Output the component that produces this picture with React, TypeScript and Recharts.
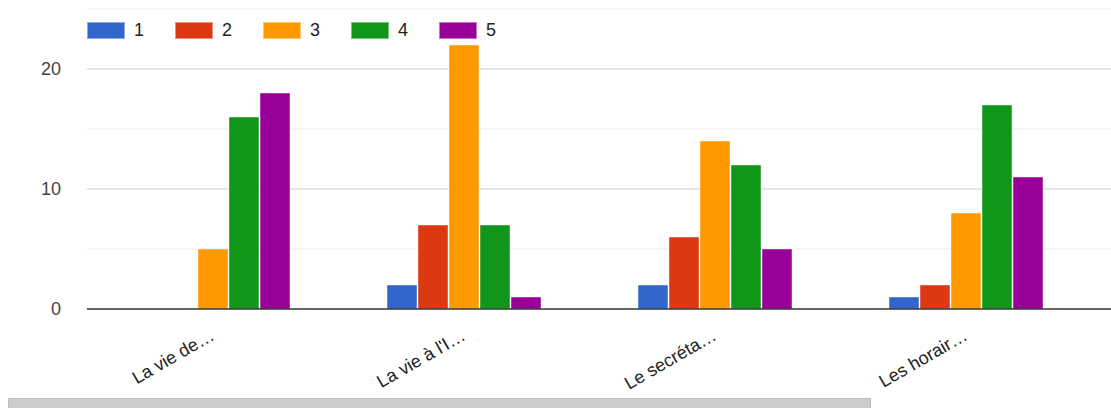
import React from 'react';
import { BarChart, Bar, XAxis, YAxis, CartesianGrid } from 'recharts';

const categories = ['La vie de…', "La vie à l'I…", 'Le secréta…', 'Les horair…'];
const series1 = [0, 2, 2, 1];
const series2 = [0, 7, 6, 2];
const series3 = [5, 22, 14, 8];
const series4 = [16, 7, 12, 17];
const series5 = [18, 1, 5, 11];
const seriesNames = ['1', '2', '3', '4', '5'];
const colors = ['#3366cc', '#dc3912', '#ff9900', '#109618', '#990099'];
const yTicks = [0, 10, 20];

const data = categories.map((name, i) => ({
    name,
    s1: series1[i],
    s2: series2[i],
    s3: series3[i],
    s4: series4[i],
    s5: series5[i],
}));

const FONT = '"Liberation Sans", Arial, sans-serif';

function XTick(props: any) {
    const { x, y, payload } = props;
    return (
        <g transform={`translate(${x + 3},${y + 22})`}>
            <text
                textAnchor="end"
                transform="rotate(-30)"
                fill="#222"
                fontSize={18}
                fontFamily={FONT}
            >
                {payload.value}
            </text>
        </g>
    );
}

// legend drawn as plain html so it doesn't push the plot down
function LegendBox() {
    return (
        <div
            style={{
                position: 'absolute',
                top: 21,
                left: 87,
                display: 'flex',
                fontFamily: FONT,
                fontSize: 18,
                color: '#222',
            }}
        >
            {seriesNames.map((n, i) => (
                <div key={n} style={{ display: 'flex', alignItems: 'center', width: 88 }}>
                    <span
                        style={{
                            display: 'inline-block',
                            width: 38,
                            height: 17,
                            background: colors[i],
                            border: '1px solid rgba(255,255,255,0.45)',
                            boxSizing: 'border-box',
                        }}
                    />
                    <span style={{ marginLeft: 9, lineHeight: '18px' }}>{n}</span>
                </div>
            ))}
        </div>
    );
}

export default function App() {
    return (
        <div style={{ position: 'absolute', top: 0, left: 0, width: 1111, height: 408, background: '#fff', overflow: 'hidden' }}>
            <BarChart
                width={1111}
                height={398}
                data={data}
                margin={{ top: 9, right: 0, left: 0, bottom: 0 }}
                barSize={30}
                barGap={1}
            >
                <CartesianGrid horizontal vertical={false} horizontalValues={[5, 15, 25]} stroke="#ebebeb" />
                <CartesianGrid horizontal vertical={false} horizontalValues={[10, 20]} stroke="#cccccc" />
                <XAxis
                    dataKey="name"
                    height={89}
                    interval={0}
                    padding={{ left: 0, right: 20 }}
                    tick={<XTick />}
                    tickLine={false}
                    axisLine={{ stroke: '#333', strokeWidth: 1.5 }}
                />
                <YAxis
                    width={87}
                    domain={[0, 25]}
                    ticks={yTicks}
                    tickLine={false}
                    axisLine={false}
                    tickMargin={20}
                    tick={{ fill: '#444', fontSize: 18, fontFamily: FONT }}
                />
                {[series1, series2, series3, series4, series5].map((_, i) => (
                    <Bar
                        key={i}
                        dataKey={`s${i + 1}`}
                        name={seriesNames[i]}
                        fill={colors[i]}
                        stroke="#ffffff"
                        strokeOpacity={0.45}
                        strokeWidth={1}
                        isAnimationActive={false}
                    />
                ))}
            </BarChart>
            <LegendBox />
            <div
                style={{
                    position: 'absolute',
                    left: 8,
                    top: 398,
                    width: 863,
                    height: 14,
                    background: '#cccccc',
                    border: '1px solid #bdbdbd',
                    boxSizing: 'border-box',
                }}
            />
        </div>
    );
}
